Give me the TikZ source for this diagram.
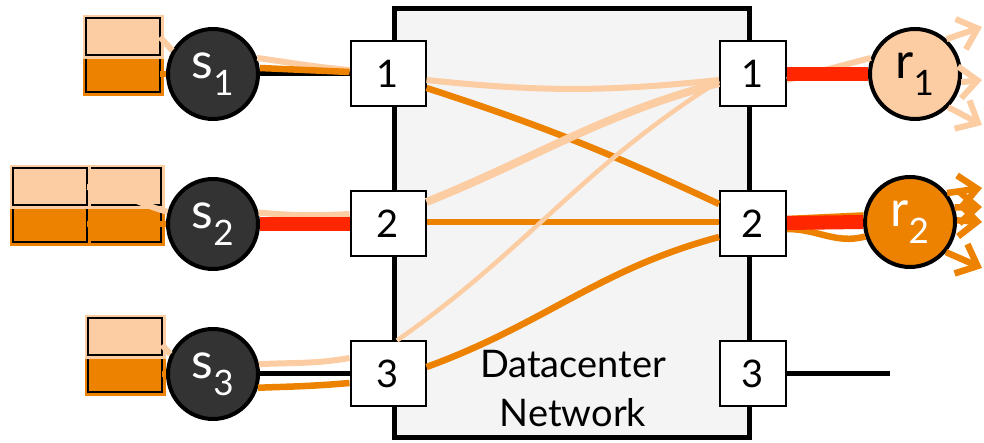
\documentclass[tikz,border=0pt]{standalone}
\usepackage{fontspec}
\setmainfont{Lato}
\usepackage{xcolor}
\usepackage{tikz}
\usetikzlibrary{arrows.meta,positioning,shapes.geometric,fit,calc}

\definecolor{peach}{RGB}{252,204,162}
\definecolor{flame}{RGB}{236,130,0}
\definecolor{hotred}{RGB}{255,38,0}
\definecolor{charcoal}{RGB}{51,51,51}
\definecolor{netgray}{RGB}{244,244,244}

\begin{document}
\begin{tikzpicture}[x=1pt, y=1pt, node distance=150pt,
  netbox/.style={rectangle, draw=black, line width=5pt, fill=netgray, minimum width=355pt, minimum height=429pt},
  port/.style={rectangle, draw=black, line width=2pt, fill=white, minimum width=75pt, minimum height=65pt, inner sep=0pt, font=\fontsize{38}{38}\selectfont},
  rport/.style={port, minimum width=66pt},
  sender/.style={circle, draw=black, line width=4pt, fill=charcoal, minimum size=90pt, inner sep=0pt, text=white, font=\fontsize{50}{50}\selectfont},
  recv/.style={sender, text=black},
  qtop/.style={rectangle, draw=black, line width=2pt, fill=peach, preaction={draw=peach, line width=7pt}, minimum width=74pt, minimum height=37pt, inner sep=0pt, outer sep=0pt},
  qbot/.style={qtop, fill=flame, preaction={draw=flame, line width=7pt}},
  link/.style={draw=black, line width=5pt},
  lite/.style={draw=peach, line width=6pt},
  heavy/.style={draw=flame, line width=6.5pt},
  hot/.style={draw=hotred, line width=14pt},
  litearr/.style={lite, -{Straight Barb[length=18pt, width=32pt]}},
  heavyarr/.style={heavy, -{Straight Barb[length=18pt, width=32pt]}}]

  \useasboundingbox (0,0) rectangle (984,443);

  \node [netbox] (net) at (572,220) {};
  \node [port] (L1) at (388,369) {1};
  \node [port, below of=L1] (L2) {2};
  \node [port, below of=L2] (L3) {3};
  \node [rport] (R1) at (753,369) {1};
  \node [rport, below of=R1] (R2) {2};
  \node [rport, below of=R2] (R3) {3};
  \node [font=\fontsize{38}{49}\selectfont, align=center] (netname) at (573,54) {Datacenter\\Network};

  \node [sender] (s1) at (213,369) {s\textsubscript{1}};
  \node [sender, below of=s1] (s2) {s\textsubscript{2}};
  \node [sender, below of=s2] (s3) {s\textsubscript{3}};
  \node [recv, fill=peach] (r1) at (915,369) {r\textsubscript{1}};
  \node [recv, fill=flame, text=white] (r2) at (910,221) {r\textsubscript{2}};

  \node [qbot, left=6pt of s1] (q1b) {};
  \node [qtop, above=0pt of q1b] (q1t) {};
  \node [qbot, left=5pt of s2] (q2b) {};
  \node [qbot, left=0pt of q2b] (q2bl) {};
  \node [qtop, above=0pt of q2b] (q2t) {};
  \node [qtop, above=0pt of q2bl] (q2tl) {};
  \node [qbot, left=4pt of s3] (q3b) {};
  \node [qtop, above=0pt of q3b] (q3t) {};

  % physical links
  \path [link] (s1) -- (L1);
  \path [link] (s2) -- (L2);
  \path [link] (s3) -- (L3);
  \coordinate (tail) at (890,69);
  \path [link] (R3) -- (tail);

  % senders
  \path [lite] (q1t.east) -- (s1.150);
  \path [heavy] (q1b.east) -- (s1.west);
  \path [lite] (s1.20) to[out=-8, in=175] ([yshift=4pt]L1.west);
  \path [heavy] ([yshift=6pt]s1.east) -- ([yshift=2pt]L1.west);
  \path [lite] (q2tl.east) to[out=-5, in=165] (s2.165);
  \path [heavy] (q2bl.east) -- (s2.west);
  \path [lite] (s2.14) to[bend right=4] ([yshift=10pt]L2.west);
  \path [hot] (s2.east) -- (L2.west);
  \path [lite] ([yshift=-8pt]q3t.east) -- (s3.155);
  \path [heavy] (q3b.east) -- (s3.west);
  \path [lite] (s3.12) to[out=3, in=190] ([yshift=16pt]L3.west);
  \path [heavy] (s3.-17) to[out=2, in=185] ([yshift=-9pt]L3.west);

  % through the network
  \path [lite] ([yshift=-6pt]L1.east) to[bend right=6] ([yshift=-6pt]R1.west);
  \path [heavy] ([yshift=-14pt]L1.east) to[out=-18, in=155] ([yshift=20pt]R2.west);
  \path [lite, line width=8pt] ([yshift=22pt]L2.east) to[out=22, in=195] ([yshift=-9pt]R1.west);
  \path [heavy] ([yshift=2pt]L2.east) -- ([yshift=2pt]R2.west);
  \path [lite, line width=4.5pt] ([xshift=9pt]L3.north) to[out=35, in=212] ([yshift=-7pt]R1.west);
  \path [heavy] ([yshift=7pt]L3.east) to[out=20, in=195] ([yshift=-13pt]R2.west);

  % receivers
  \path [lite] ([yshift=-6pt]R1.east) -- (r1.160);
  \path [hot] (R1.east) -- (r1.west);
  \path [litearr] (r1.48) -- (982,416);
  \path [litearr] (r1.-10) -- (982,363);
  \path [litearr] (r1.-45) -- (982,318);
  \path [heavy] ([yshift=5pt]R2.east) -- (r2.172);
  \path [heavy] ([yshift=-5pt]R2.east) to[out=0, in=195] (r2.198);
  \path [hot] ([yshift=1pt]R2.east) -- (r2.west);
  \path [heavyarr] (r2.38) -- (982,255);
  \path [heavyarr] (r2.18) -- (982,236);
  \path [heavyarr] (r2.2) -- (982,221);
  \path [heavyarr] (r2.-40) -- (982,175);
\end{tikzpicture}
\end{document}
